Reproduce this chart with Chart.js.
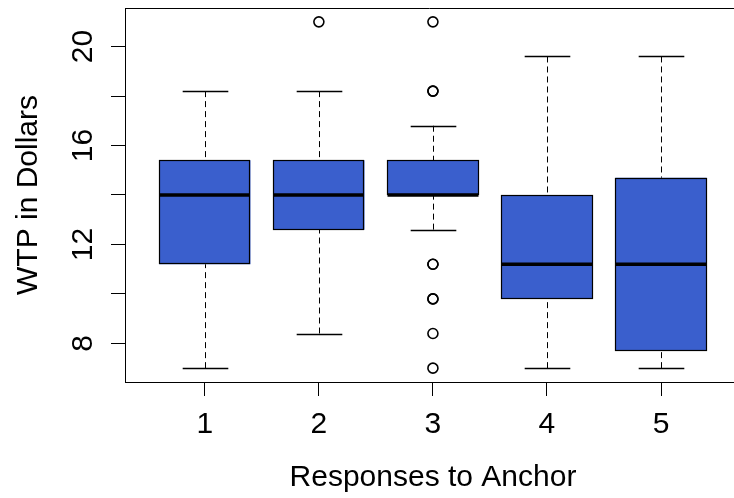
<!DOCTYPE html>
<html>
<head>
<meta charset="utf-8">
<script src="https://cdn.jsdelivr.net/npm/chart.js@4.4.1/dist/chart.umd.min.js"></script>
<style>
  html, body { margin: 0; padding: 0; background: #fff; overflow: hidden; }
  canvas { display: block; }
</style>
</head>
<body>
<canvas id="boxChart" width="734" height="498"></canvas>
<script>
// Responses to anchor (groups) and their box statistics
const groups = [1, 2, 3, 4, 5];
const lowerWhisker = [7, 8.4, 12.6, 7, 7];
const lowerQuartile = [11.2, 12.6, 14, 9.8, 7.7];
const medians = [14, 14, 14, 11.2, 11.2];
const upperQuartile = [15.4, 15.4, 15.4, 14, 14.7];
const upperWhisker = [18.2, 18.2, 16.8, 19.6, 19.6];

// Outliers (group, value) - repeated values are overplotted
const outlierGroups = [2, 3, 3, 3, 3, 3, 3, 3, 3, 3];
const outlierValues = [21, 21, 18.2, 18.2, 11.2, 11.2, 9.8, 9.8, 8.4, 7];

// Axis ticks
const yTicks = [8, 10, 12, 14, 16, 18, 20];
const yTickLabels = [8, 12, 16, 20];

const FONT = "'Liberation Sans', Arial, Helvetica, sans-serif";
const FONT_SIZE = 30;
const BOX_COLOR = "#3a5fcd";

// Box outlines, whiskers, staples, medians, frame and rotated y labels
const boxParts = {
  id: "boxParts",
  afterDatasetsDraw(chart) {
    const { ctx, scales } = chart;
    const x = scales.x;
    const y = scales.y;
    const boxHalf = x.getPixelForValue(1.4) - x.getPixelForValue(1);
    const capHalf = boxHalf / 2;
    const bars = chart.getDatasetMeta(0).data;

    ctx.save();
    ctx.strokeStyle = "#000";
    groups.forEach((g, i) => {
      const cx = Math.round(x.getPixelForValue(g)) + 0.5;

      // crisp outline around the box drawn by the bar dataset
      const bar = bars[i];
      const left = Math.round(bar.x - bar.width / 2) + 0.5;
      const right = Math.round(bar.x + bar.width / 2) - 0.5;
      const top = Math.round(Math.min(bar.y, bar.base)) + 0.5;
      const bottom = Math.round(Math.max(bar.y, bar.base)) - 0.5;
      ctx.lineWidth = 1.2;
      ctx.setLineDash([]);
      ctx.strokeRect(left, top, right - left, bottom - top);

      // dashed whiskers, drawn from the whisker end toward the box
      ctx.lineWidth = 1;
      ctx.setLineDash([6, 4]);
      ctx.beginPath();
      ctx.moveTo(cx, y.getPixelForValue(upperWhisker[i]));
      ctx.lineTo(cx, y.getPixelForValue(upperQuartile[i]));
      ctx.moveTo(cx, y.getPixelForValue(lowerWhisker[i]));
      ctx.lineTo(cx, y.getPixelForValue(lowerQuartile[i]));
      ctx.stroke();

      // staples
      ctx.setLineDash([]);
      ctx.lineWidth = 1.3;
      ctx.beginPath();
      const yu = Math.round(y.getPixelForValue(upperWhisker[i])) + 0.5;
      const yl = Math.round(y.getPixelForValue(lowerWhisker[i])) + 0.5;
      ctx.moveTo(cx - capHalf, yu);
      ctx.lineTo(cx + capHalf, yu);
      ctx.moveTo(cx - capHalf, yl);
      ctx.lineTo(cx + capHalf, yl);
      ctx.stroke();

      // median
      ctx.lineWidth = 3.5;
      ctx.beginPath();
      const ym = y.getPixelForValue(medians[i]);
      ctx.moveTo(left, ym);
      ctx.lineTo(right, ym);
      ctx.stroke();
    });
    ctx.restore();
  },
  afterDraw(chart) {
    const { ctx, chartArea, scales } = chart;
    const y = scales.y;

    ctx.save();
    // top edge of the box around the plot
    ctx.strokeStyle = "#000";
    ctx.lineWidth = 1;
    ctx.beginPath();
    ctx.moveTo(chartArea.left, chartArea.top + 0.5);
    ctx.lineTo(chartArea.right, chartArea.top + 0.5);
    ctx.stroke();

    ctx.fillStyle = "#000";
    ctx.font = FONT_SIZE + "px " + FONT;
    ctx.textAlign = "center";
    ctx.textBaseline = "alphabetic";

    // y tick labels, parallel to the axis
    yTickLabels.forEach((v) => {
      ctx.save();
      ctx.translate(92, y.getPixelForValue(v));
      ctx.rotate(-Math.PI / 2);
      ctx.fillText(String(v), 0, 0);
      ctx.restore();
    });

    // axis titles
    ctx.save();
    ctx.translate(37, (chartArea.top + chartArea.bottom) / 2);
    ctx.rotate(-Math.PI / 2);
    ctx.fillText("WTP in Dollars", 0, 0);
    ctx.restore();

    ctx.fillText("Responses to Anchor", 433, 486);
    ctx.restore();
  },
};

const ctx = document.getElementById("boxChart").getContext("2d");

new Chart(ctx, {
  type: "bar",
  data: {
    datasets: [
      {
        type: "bar",
        label: "IQR",
        data: groups.map((g, i) => ({ x: g, y: [lowerQuartile[i], upperQuartile[i]] })),
        backgroundColor: BOX_COLOR,
        borderWidth: 0,
        barPercentage: 0.8,
        categoryPercentage: 1.0,
        order: 2,
      },
      {
        type: "scatter",
        label: "Outliers",
        data: outlierValues.map((v, i) => ({ x: outlierGroups[i], y: v })),
        pointStyle: "circle",
        pointRadius: 5,
        pointBorderWidth: 1.6,
        pointBorderColor: "#000",
        pointBackgroundColor: "rgba(0,0,0,0)",
        order: 1,
      },
    ],
  },
  options: {
    responsive: false,
    animation: false,
    events: [],
    layout: {
      autoPadding: false,
      padding: { top: 8, left: 0, right: 0, bottom: 0 },
    },
    plugins: {
      legend: { display: false },
      tooltip: { enabled: false },
    },
    scales: {
      x: {
        type: "linear",
        min: 0.3,
        max: 5.64,
        offset: false,
        afterBuildTicks: (scale) => {
          scale.ticks = groups.map((g) => ({ value: g }));
        },
        afterFit: (scale) => {
          scale.height = 116;
          scale.paddingLeft = 0;
          scale.paddingRight = 0;
        },
        grid: {
          offset: false,
          drawOnChartArea: false,
          drawTicks: true,
          tickLength: 14,
          tickColor: "#000",
          lineWidth: 1,
        },
        border: { display: true, color: "#000", width: 1 },
        ticks: {
          color: "#000",
          font: { family: FONT, size: FONT_SIZE },
          padding: 11,
          maxRotation: 0,
          autoSkip: false,
          callback: (v) => String(v),
        },
      },
      y: {
        type: "linear",
        min: 6.44,
        max: 21.56,
        afterBuildTicks: (scale) => {
          scale.ticks = yTicks.map((v) => ({ value: v }));
        },
        afterFit: (scale) => {
          scale.width = 125;
          scale.paddingTop = 0;
          scale.paddingBottom = 0;
        },
        grid: {
          drawOnChartArea: false,
          drawTicks: true,
          tickLength: 14,
          tickColor: "#000",
          lineWidth: 1,
        },
        border: { display: true, color: "#000", width: 1 },
        ticks: {
          display: false,
        },
      },
    },
  },
  plugins: [boxParts],
});
</script>
</body>
</html>
